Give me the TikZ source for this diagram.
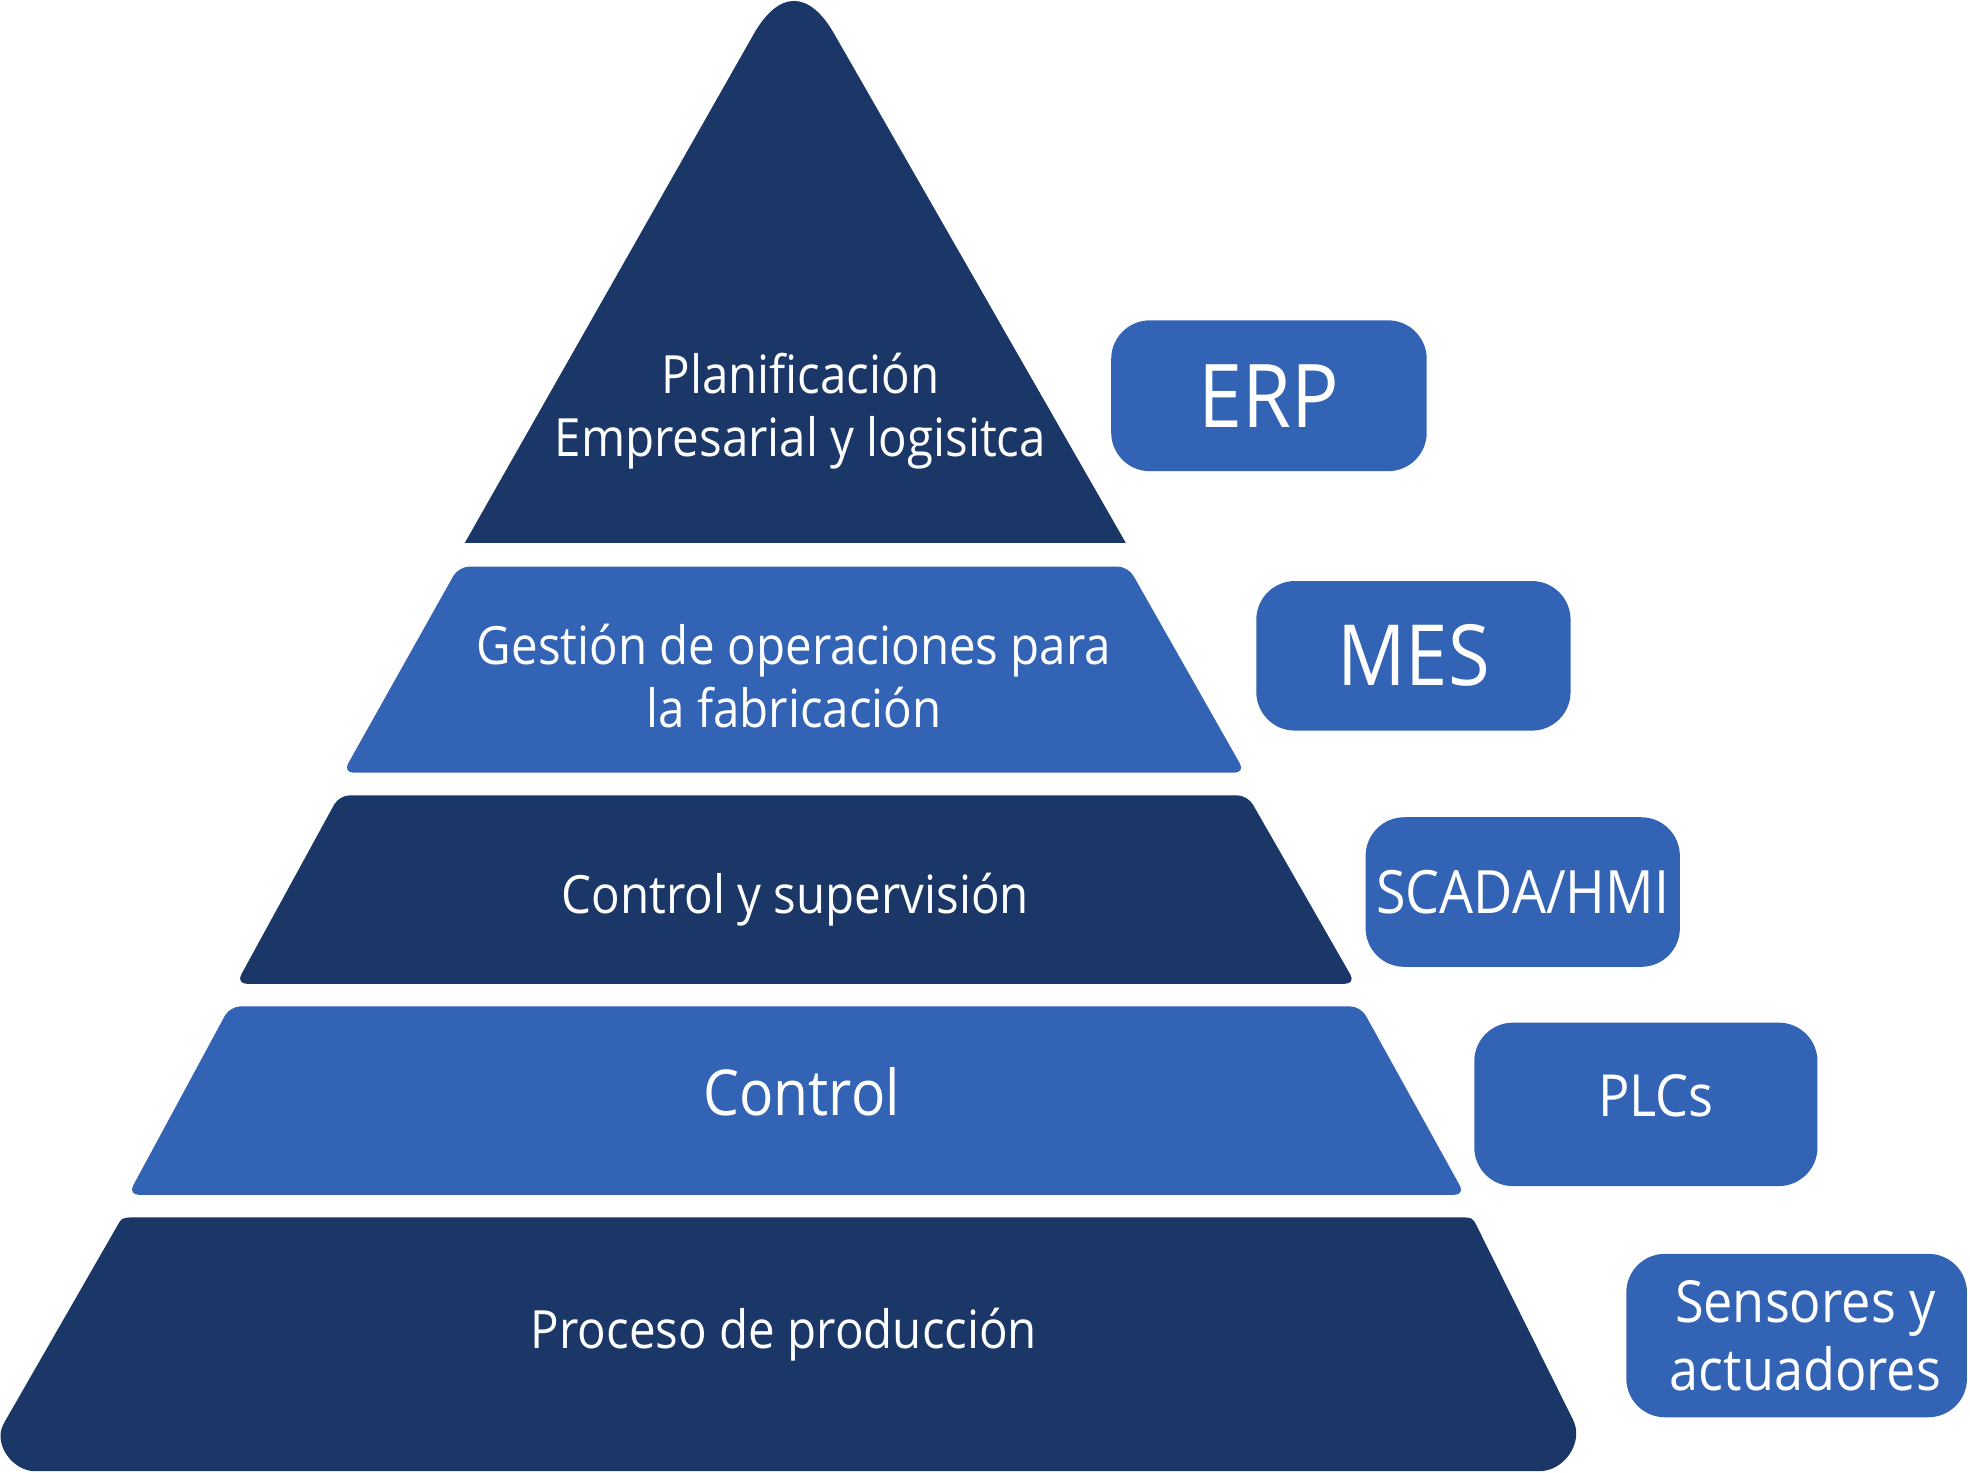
\documentclass[tikz,border=0pt]{standalone}
\usepackage{fontspec}
\setmainfont[FakeStretch=0.9]{Open Sans}
\usetikzlibrary{positioning}
\definecolor{pyrDark}{RGB}{27,55,104}
\definecolor{pyrLight}{RGB}{50,99,181}
\tikzset{
    level/.style={rounded corners=3pt},
    lbl/.style={text=white,align=center,font=\fontsize{15}{18}\selectfont},
    sysbox/.style={fill=pyrLight,rounded corners=11pt,text=white,align=center,inner sep=0pt},
}

\begin{document}
\begin{tikzpicture}[x=0.012564cm,y=-0.012564cm]
    \useasboundingbox (0,0) rectangle (1568,1172);
    % niveles de la piramide
    \fill[pyrDark] (370,432) -- (600,27) .. controls (620,-8) and (644,-8) .. (664,27) -- (896,432) -- cycle;
    \fill[pyrLight,level] (273,615) -- (365,451) -- (898,451) -- (991,615) -- cycle;
    \fill[pyrDark,level] (188,783) -- (270,633) -- (993,633) -- (1079,783) -- cycle;
    \fill[pyrLight,level] (102,951) -- (183,801) -- (1083,801) -- (1166,951) -- cycle;
    \fill[pyrDark] (28,1171) -- (1225,1171) .. controls (1245,1171) and (1261,1148) .. (1252,1130)
        -- (1176,977) .. controls (1172,969) .. (1163,969) -- (106,969) .. controls (97,969) .. (92,978)
        -- (3,1133) .. controls (-6,1149) and (10,1171) .. (28,1171) -- cycle;
    % textos
    \node[lbl] (plan) at (637,327) {Planificación\\Empresarial y logisitca};
    \node[lbl] (gest) at (632,538) {Gestión de operaciones para\\la fabricación};
    \node[lbl,anchor=base] (superv) at (633,727) {Control y supervisión};
    \node[lbl,anchor=base,font=\fontsize{18}{21}\selectfont] (ctrl) at (638,888) {Control};
    \node[lbl,anchor=base] (proc) at (624,1073) {Proceso de producción};
    % sistemas
    \node[sysbox,minimum width=251*0.3575pt,minimum height=120*0.3575pt,font=\fontsize{25}{28}\selectfont] (erp) at (1010,315) {ERP};
    \node[sysbox,minimum width=250*0.3575pt,minimum height=119*0.3575pt,font=\fontsize{24}{27}\selectfont] (mes) at (1125,522) {MES};
    \node[sysbox,minimum width=250*0.3575pt,minimum height=119*0.3575pt,font=\fontsize{17}{20}\selectfont] (scada) at (1212,710) {SCADA/HMI};
    \node[sysbox,minimum width=273*0.3575pt,minimum height=130*0.3575pt,font=\fontsize{16.5}{19.3}\selectfont] (plc) at (1310,879) {\hspace*{5.7pt}PLCs\rule[-5pt]{0pt}{5pt}};
    \node[sysbox,minimum width=271*0.3575pt,minimum height=130*0.3575pt,font=\fontsize{16.5}{19.3}\selectfont] (sens) at (1430,1063) {\hspace*{5pt}Sensores y\\\hspace*{5pt}actuadores};
    % \node[sysbox] (hmi) [below=of scada] {HMI};
\end{tikzpicture}
\end{document}
